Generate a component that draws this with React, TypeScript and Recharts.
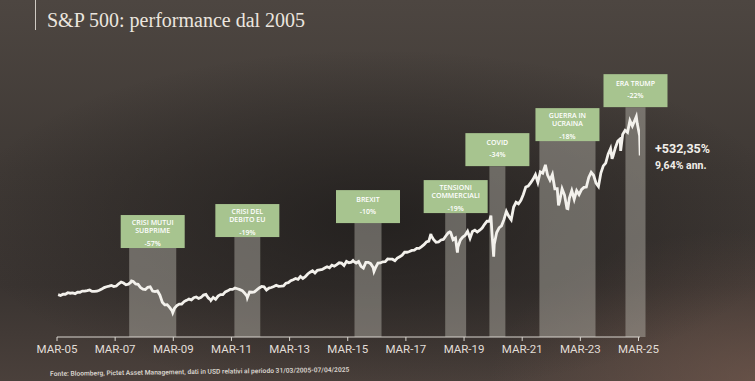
import { LineChart, Line, XAxis, YAxis, ReferenceArea } from "recharts";

// S&P 500 month-end closes, starting March 2005
const FIRST_YEAR = 2005;
const FIRST_MONTH = 3;
const monthlyCloses = [
  1181, 1157, 1192, 1191, 1234, 1220, 1229, 1207, 1249, 1248,
  1280, 1281, 1295, 1311, 1270, 1270, 1277, 1304, 1336, 1378, 1401, 1418,
  1438, 1407, 1421, 1482, 1531, 1503, 1455, 1474, 1527, 1549, 1481, 1468,
  1379, 1331, 1323, 1386, 1400, 1280, 1267, 1283, 1166, 969, 896, 903,
  826, 735, 798, 873, 919, 919, 987, 1021, 1057, 1036, 1096, 1115,
  1074, 1104, 1169, 1187, 1089, 1031, 1102, 1049, 1141, 1183, 1181, 1258,
  1286, 1327, 1326, 1364, 1345, 1321, 1292, 1219, 1131, 1253, 1247, 1258,
  1312, 1366, 1408, 1398, 1310, 1362, 1379, 1407, 1441, 1412, 1416, 1426,
  1498, 1515, 1569, 1598, 1631, 1606, 1686, 1633, 1682, 1757, 1806, 1848,
  1783, 1859, 1872, 1884, 1924, 1960, 1931, 2003, 1972, 2018, 2068, 2059,
  1995, 2105, 2068, 2086, 2107, 2063, 2104, 1972, 1920, 2079, 2080, 2044,
  1940, 1932, 2060, 2065, 2097, 2099, 2174, 2171, 2168, 2126, 2199, 2239,
  2279, 2364, 2363, 2384, 2412, 2423, 2470, 2472, 2519, 2575, 2648, 2674,
  2824, 2714, 2641, 2648, 2705, 2718, 2816, 2902, 2914, 2712, 2760, 2507,
  2704, 2784, 2834, 2946, 2752, 2942, 2980, 2926, 2977, 3038, 3141, 3231,
  3226, 2954, 2585, 2912, 3044, 3100, 3271, 3500, 3363, 3270, 3622, 3756,
  3714, 3811, 3973, 4181, 4204, 4298, 4395, 4523, 4308, 4605, 4567, 4766,
  4516, 4374, 4530, 4132, 4132, 3785, 4130, 3955, 3586, 3872, 4080, 3840,
  4077, 3970, 4109, 4169, 4180, 4450, 4589, 4508, 4288, 4194, 4568, 4770,
  4846, 5096, 5254, 5036, 5278, 5460, 5522, 5648, 5762, 5705, 6032, 5882,
  6041, 5955, 5612,
];

// intra-month highs and lows
const extremes: [string, number][] = [
  ["2007-10-09", 1565],
  ["2009-03-09", 677],
  ["2010-07-02", 1022],
  ["2011-10-03", 1099],
  ["2015-05-21", 2131],
  ["2016-02-11", 1829],
  ["2018-01-26", 2873],
  ["2018-09-20", 2931],
  ["2018-12-24", 2351],
  ["2020-02-19", 3386],
  ["2020-03-23", 2237],
  ["2022-01-03", 4797],
  ["2022-06-16", 3667],
  ["2022-10-12", 3577],
  ["2024-04-19", 4967],
  ["2024-08-05", 5186],
  ["2025-02-19", 6144],
  ["2025-04-07", 5062],
];

const tickYears = [2005, 2007, 2009, 2011, 2013, 2015, 2017, 2019, 2021, 2023, 2025];

const events = [
  { lines: ["CRISI MUTUI", "SUBPRIME"], drop: "-57%", from: 2007.69, to: 2009.31, top: 2480 },
  { lines: ["CRISI DEL", "DEBITO EU"], drop: "-19%", from: 2011.31, to: 2012.2, top: 2786 },
  { lines: ["BREXIT"], drop: "-10%", from: 2015.44, to: 2016.37, top: 3175 },
  { lines: ["TENSIONI", "COMMERCIALI"], drop: "-19%", from: 2018.56, to: 2019.28, top: 3454 },
  { lines: ["COVID"], drop: "-34%", from: 2020.08, to: 2020.63, top: 4763 },
  { lines: ["GUERRA IN", "UCRAINA"], drop: "-18%", from: 2021.8, to: 2023.73, top: 5460 },
  { lines: ["ERA TRUMP"], drop: "-22%", from: 2024.76, to: 2025.45, top: 6407 },
];

const toYear = (iso: string) => {
  const [y, m, d] = iso.split("-").map(Number);
  return y + (m - 1) / 12 + (d - 1) / 365;
};

const series = [
  ...monthlyCloses.map((v, i) => {
    const idx = FIRST_MONTH - 1 + i;
    const y = FIRST_YEAR + Math.floor(idx / 12);
    const m = (idx % 12) + 1;
    return { t: y + m / 12 - 1 / 365, v };
  }),
  ...extremes.map(([d, v]) => ({ t: toYear(d), v })),
].sort((a, b) => a.t - b.t);

const TICK_OFFSET = 2.5 / 12; // mid March
const ticks = tickYears.map((y) => y + TICK_OFFSET);
const tickLabel = (t: number) => "MAR-" + String(Math.round(t - TICK_OFFSET)).slice(2);

const FONT = "'Open Sans', Roboto, sans-serif";

function EventBox(props: any) {
  const { viewBox, ev } = props;
  const cx = viewBox.x + viewBox.width / 2;
  const w = 64;
  const h = 33;
  const top = viewBox.y - h;
  const two = ev.lines.length > 1;
  const lineY = two ? [top + 9.5, top + 18] : [top + 11.5];
  return (
    <g>
      <rect x={cx - w / 2} y={top} width={w} height={h} fill="#a7c48f" />
      {ev.lines.map((s: string, i: number) => (
        <text key={s} x={cx} y={lineY[i]} textAnchor="middle" fontSize={7} fontWeight={600} fill="#ffffff" fontFamily={FONT}>
          {s}
        </text>
      ))}
      <text x={cx} y={two ? top + 30.5 : top + 23.5} textAnchor="middle" fontSize={7} fontWeight={600} fill="#ffffff" fontFamily={FONT}>
        {ev.drop}
      </text>
    </g>
  );
}

export default function App() {
  return (
    <div
      style={{
        position: "absolute",
        left: 0,
        top: 0,
        width: 755,
        height: 381,
        overflow: "hidden",
        background:
          "radial-gradient(ellipse 55% 45% at 50% 58%, rgba(28,26,25,0.75), rgba(28,26,25,0) 100%)," +
          "radial-gradient(ellipse 35% 40% at 100% 100%, rgba(125,95,82,0.55), rgba(125,95,82,0) 100%)," +
          "linear-gradient(180deg, #4d4641 0%, #3f3935 45%, #3a3431 75%, #4a403b 100%)",
      }}
    >
      <div style={{ position: "absolute", left: 35, top: 0, width: 1, height: 30, background: "#cfcac3" }} />
      <div
        style={{
          position: "absolute",
          left: 47,
          top: 9,
          fontFamily: "'Liberation Serif', 'DejaVu Serif', serif",
          fontSize: 20,
          color: "#ebe6df",
          whiteSpace: "nowrap",
        }}
      >
        S&amp;P 500: performance dal 2005
      </div>
      <LineChart width={755} height={381} data={series} margin={{ top: 50, right: 115, left: 57, bottom: 14 }}>
        <XAxis
          dataKey="t"
          type="number"
          domain={[2005 + TICK_OFFSET, 2025.26]}
          ticks={ticks}
          tickFormatter={tickLabel}
          height={30}
          stroke="#d9d5cf"
          tickSize={4}
          tickMargin={4}
          tick={{ fontSize: 11.5, fill: "#e2ded8", fontFamily: "Roboto, sans-serif" }}
          allowDataOverflow
        />
        <YAxis hide domain={[0, 8000]} />
        {events.map((ev) => (
          <ReferenceArea
            key={ev.drop + ev.from}
            x1={ev.from}
            x2={ev.to}
            y1={0}
            y2={ev.top}
            fill="#c4c1b8"
            fillOpacity={0.42}
            stroke="none"
            ifOverflow="visible"
            label={(p: any) => <EventBox {...p} ev={ev} />}
          />
        ))}
        <Line
          dataKey="v"
          type="linear"
          stroke="#f3f1ec"
          strokeWidth={2.8}
          dot={false}
          isAnimationActive={false}
        />
      </LineChart>
      <div
        style={{
          position: "absolute",
          left: 655,
          top: 141,
          fontFamily: "Roboto, sans-serif",
          fontWeight: 700,
          fontSize: 12.5,
          color: "#f1eee9",
          whiteSpace: "nowrap",
        }}
      >
        +532,35%
      </div>
      <div
        style={{
          position: "absolute",
          left: 655,
          top: 159,
          fontFamily: "Roboto, sans-serif",
          fontWeight: 700,
          fontSize: 10.5,
          color: "#f1eee9",
          whiteSpace: "nowrap",
        }}
      >
        9,64% ann.
      </div>
      <div
        style={{
          position: "absolute",
          left: 50,
          top: 370,
          fontFamily: "Roboto, sans-serif",
          fontWeight: 600,
          fontSize: 6.7,
          color: "#d8d3cc",
          whiteSpace: "nowrap",
          transform: "rotate(-0.8deg)",
          transformOrigin: "left center",
        }}
      >
        Fonte: Bloomberg, Pictet Asset Management, dati in USD relativi al periodo 31/03/2005-07/04/2025
      </div>
    </div>
  );
}
